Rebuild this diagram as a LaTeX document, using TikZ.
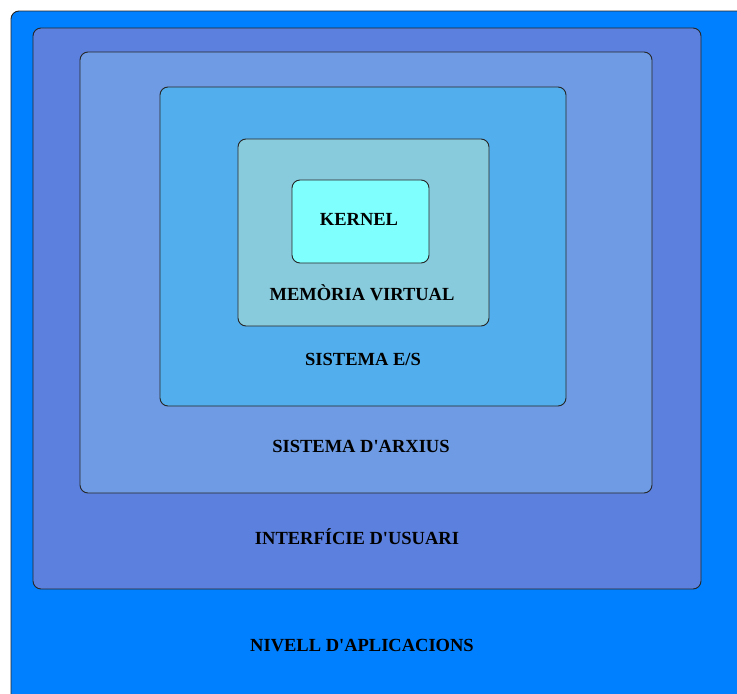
\documentclass[tikz,border=0pt]{standalone}
\usepackage{fontspec}
\setmainfont{Liberation Serif}[Ligatures=TeXOff]
\definecolor{appblue}{HTML}{0080FF}
\definecolor{uiblue}{HTML}{5C80DD}
\definecolor{fsblue}{HTML}{6E9BE3}
\definecolor{ioblue}{HTML}{52AEEC}
\definecolor{vmblue}{HTML}{88CBDC}
\definecolor{kcyan}{HTML}{80FFFF}
\begin{document}
\begin{tikzpicture}[x=1pt,y=-1pt,
  layer/.style={draw=black!85, line width=0.9pt, rounded corners=8pt},
  lbl/.style={font=\bfseries\fontsize{18.5}{22}\selectfont, text=black, inner sep=0pt}]
\useasboundingbox (0,0) rectangle (737,694);
\clip (0,0) rectangle (737,694);
% nested layers, outermost first
\draw[layer, fill=appblue] (11,11) rectangle (760,720);
\draw[layer, fill=uiblue] (33,28) rectangle (701,589);
\draw[layer, fill=fsblue] (80,52) rectangle (652,493);
\draw[layer, fill=ioblue] (160,87) rectangle (566,406);
\draw[layer, fill=vmblue] (238,139) rectangle (489,326);
\draw[layer, fill=kcyan] (292,180) rectangle (429,263);
% layer names
\node[lbl] (kernel) at (359,219) {KERNEL};
\node[lbl] (vm) at (362,293) {MEMÒRIA VIRTUAL};
\node[lbl] (io) at (363,359) {SISTEMA E/S};
\node[lbl] (fs) at (361,446) {SISTEMA D'ARXIUS};
\node[lbl] (ui) at (357,537) {INTERFÍCIE D'USUARI};
\node[lbl] (app) at (362,646) {NIVELL D'APLICACIONS};
\end{tikzpicture}
\end{document}
